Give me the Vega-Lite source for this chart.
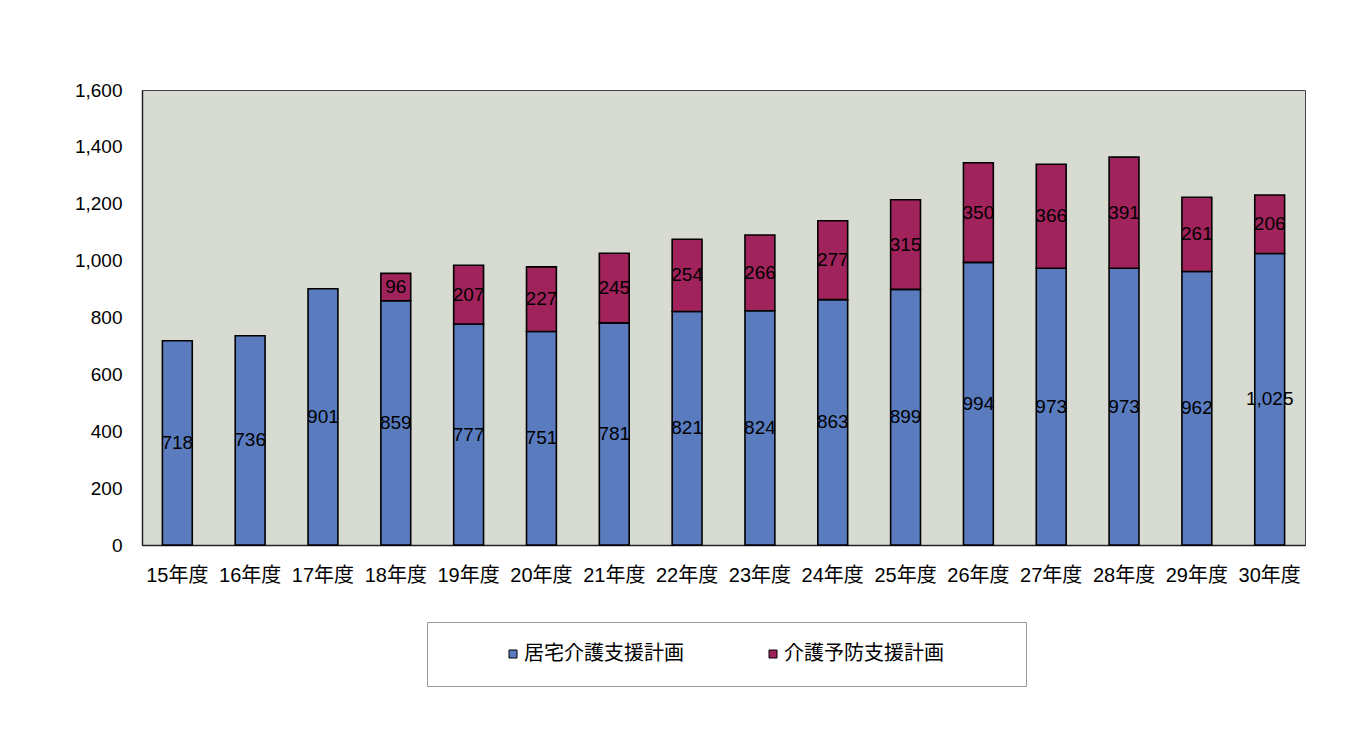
{
  "$schema": "https://vega.github.io/schema/vega-lite/v6.json",
  "autosize": "none",
  "width": 1163,
  "height": 455,
  "padding": {"left": 142, "top": 90, "right": 43, "bottom": 190},
  "background": "#ffffff",
  "data": {
    "values": [
      {"year": "15年度", "series": "居宅介護支援計画", "k": 1, "value": 718},
      {"year": "16年度", "series": "居宅介護支援計画", "k": 1, "value": 736},
      {"year": "17年度", "series": "居宅介護支援計画", "k": 1, "value": 901},
      {"year": "18年度", "series": "居宅介護支援計画", "k": 1, "value": 859},
      {"year": "19年度", "series": "居宅介護支援計画", "k": 1, "value": 777},
      {"year": "20年度", "series": "居宅介護支援計画", "k": 1, "value": 751},
      {"year": "21年度", "series": "居宅介護支援計画", "k": 1, "value": 781},
      {"year": "22年度", "series": "居宅介護支援計画", "k": 1, "value": 821},
      {"year": "23年度", "series": "居宅介護支援計画", "k": 1, "value": 824},
      {"year": "24年度", "series": "居宅介護支援計画", "k": 1, "value": 863},
      {"year": "25年度", "series": "居宅介護支援計画", "k": 1, "value": 899},
      {"year": "26年度", "series": "居宅介護支援計画", "k": 1, "value": 994},
      {"year": "27年度", "series": "居宅介護支援計画", "k": 1, "value": 973},
      {"year": "28年度", "series": "居宅介護支援計画", "k": 1, "value": 973},
      {"year": "29年度", "series": "居宅介護支援計画", "k": 1, "value": 962},
      {"year": "30年度", "series": "居宅介護支援計画", "k": 1, "value": 1025},
      {"year": "18年度", "series": "介護予防支援計画", "k": 2, "value": 96},
      {"year": "19年度", "series": "介護予防支援計画", "k": 2, "value": 207},
      {"year": "20年度", "series": "介護予防支援計画", "k": 2, "value": 227},
      {"year": "21年度", "series": "介護予防支援計画", "k": 2, "value": 245},
      {"year": "22年度", "series": "介護予防支援計画", "k": 2, "value": 254},
      {"year": "23年度", "series": "介護予防支援計画", "k": 2, "value": 266},
      {"year": "24年度", "series": "介護予防支援計画", "k": 2, "value": 277},
      {"year": "25年度", "series": "介護予防支援計画", "k": 2, "value": 315},
      {"year": "26年度", "series": "介護予防支援計画", "k": 2, "value": 350},
      {"year": "27年度", "series": "介護予防支援計画", "k": 2, "value": 366},
      {"year": "28年度", "series": "介護予防支援計画", "k": 2, "value": 391},
      {"year": "29年度", "series": "介護予防支援計画", "k": 2, "value": 261},
      {"year": "30年度", "series": "介護予防支援計画", "k": 2, "value": 206}
    ]
  },
  "transform": [
    {"stack": "value", "groupby": ["year"], "sort": [{"field": "k", "order": "ascending"}], "as": ["v0", "v1"]},
    {"calculate": "(datum.v0 + datum.v1) / 2", "as": "mid"}
  ],
  "encoding": {
    "x": {
      "field": "year",
      "type": "nominal",
      "sort": null,
      "scale": {"paddingInner": 0.59, "paddingOuter": 0.28},
      "axis": {
        "title": null,
        "labelAngle": 0,
        "labelFont": "Liberation Sans, Noto Sans CJK JP",
        "labelFontSize": 20,
        "labelColor": "#000000",
        "labelPadding": 20,
        "ticks": false,
        "domainColor": "#222222",
        "domainWidth": 1.5
      }
    }
  },
  "layer": [
    {
      "mark": {"type": "bar", "stroke": "#000000", "strokeWidth": 1.6},
      "encoding": {
        "y": {
          "field": "v0",
          "type": "quantitative",
          "scale": {"domain": [0, 1600], "nice": false},
          "axis": {
            "title": null,
            "values": [0, 200, 400, 600, 800, 1000, 1200, 1400, 1600],
            "format": ",d",
            "grid": false,
            "ticks": false,
            "labelFont": "Liberation Sans",
            "labelFontSize": 19,
            "labelColor": "#000000",
            "labelPadding": 20,
            "domainColor": "#222222",
            "domainWidth": 1.5
          }
        },
        "y2": {"field": "v1"},
        "color": {
          "field": "series",
          "type": "nominal",
          "scale": {
            "domain": ["居宅介護支援計画", "介護予防支援計画"],
            "range": ["#5a7cbf", "#a1235b"]
          },
          "legend": {
            "orient": "none",
            "legendX": 285,
            "legendY": 532,
            "direction": "horizontal",
            "title": "居宅介",
            "titleOrient": "left",
            "titlePadding": 0,
            "titleFontSize": 18,
            "titleOpacity": 0,
            "fillColor": "#ffffff",
            "strokeColor": "#999999",
            "padding": 22,
            "symbolType": "square",
            "symbolSize": 64,
            "symbolStrokeColor": "#000000",
            "symbolStrokeWidth": 1,
            "symbolOpacity": 1,
            "labelFont": "Noto Sans CJK JP",
            "labelFontSize": 20,
            "labelColor": "#000000",
            "labelOffset": 1,
            "labelLimit": 400,
            "columnPadding": 79,
            "labelExpr": "datum.label == '介護予防支援計画' ? datum.label + '⠀⠀⠀⠀' : datum.label"
          }
        }
      }
    },
    {
      "mark": {"type": "text", "font": "Liberation Sans", "fontSize": 19, "color": "#000000", "baseline": "middle", "align": "center"},
      "encoding": {
        "y": {"field": "mid", "type": "quantitative"},
        "text": {"field": "value", "type": "quantitative", "format": ",d"}
      }
    }
  ],
  "config": {
    "view": {"fill": "#d8dbd2", "stroke": "#444444", "strokeWidth": 1}
  }
}
